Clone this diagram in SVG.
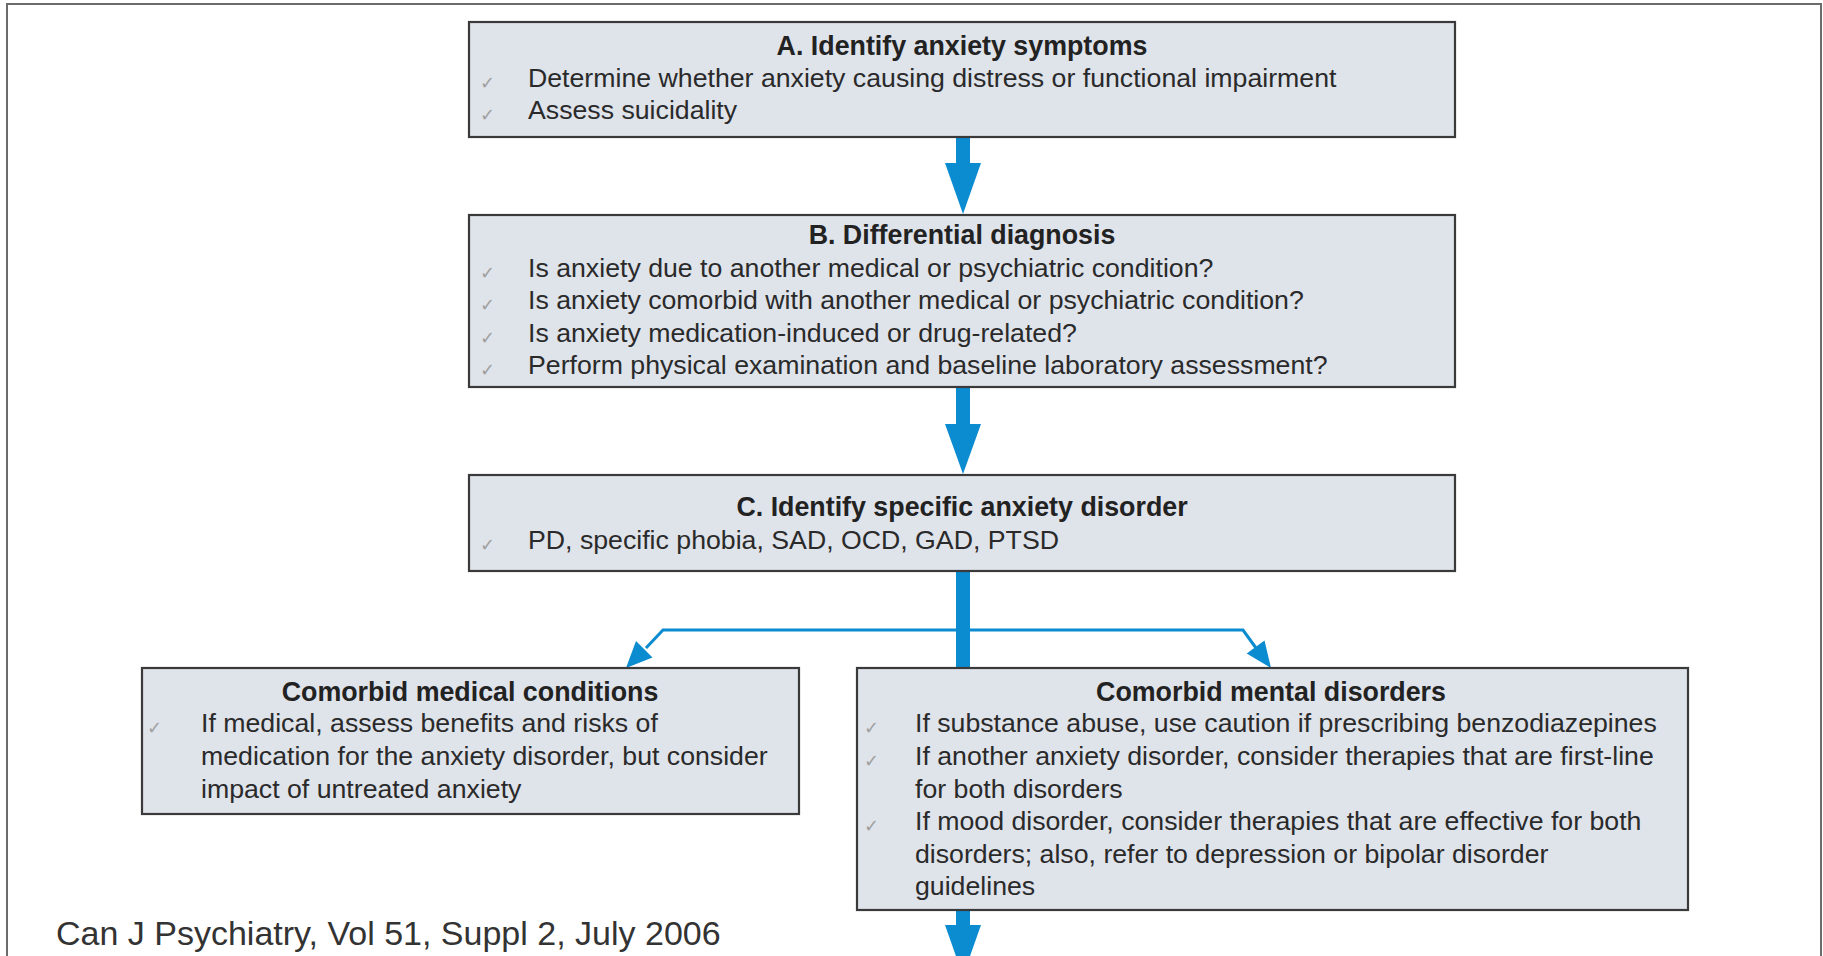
<svg xmlns="http://www.w3.org/2000/svg" width="1823" height="956" viewBox="0 0 1823 956">
<defs>
<style>
.frame{fill:#ffffff;stroke:#6b6b6b;stroke-width:2}
.box{fill:#dfe3ea;stroke:#3a3a3a;stroke-width:2.2}
.title{font-family:"Liberation Sans",Arial,sans-serif;font-weight:bold;font-size:26.8px;fill:#222;text-anchor:middle}
.body{font-family:"Liberation Sans",Arial,sans-serif;font-size:26.7px;fill:#2a2a2a}
.chk{font-family:"DejaVu Sans",sans-serif;font-size:18px;fill:#a0a0a0}
.foot{font-family:"Liberation Sans",Arial,sans-serif;font-size:34px;fill:#333}
.blue{fill:#0b8bd0}
.thin{fill:none;stroke:#0b8bd0;stroke-width:3;stroke-linejoin:miter}
</style>
</defs>
<rect class="frame" x="7" y="4" width="1814" height="960"/>

<g id="connectors">
  <rect class="blue" x="956" y="137" width="14" height="28"/>
  <polygon class="blue" points="945,163 981,163 963,214"/>
  <rect class="blue" x="956" y="387" width="14" height="39"/>
  <polygon class="blue" points="945,424 981,424 963,474"/>
  <rect class="blue" x="956" y="571" width="14" height="98"/>
  <polyline class="thin" points="646,648 663,630 1243,630 1256,648"/>
  <polygon class="blue" points="626,668 652.5,657.5 636,641"/>
  <polygon class="blue" points="1271,668 1264.5,640.6 1246.7,653.6"/>
  <rect class="blue" x="956" y="910" width="14" height="17"/>
  <polygon class="blue" points="945,925 981,925 963,976"/>
</g>

<g id="nodeA">
  <rect class="box" x="469" y="22" width="986" height="115"/>
  <text class="title" x="962" y="55">A. Identify anxiety symptoms</text>
  <text class="chk" x="480" y="89">✓</text>
  <text class="body" x="528" y="87">Determine whether anxiety causing distress or functional impairment</text>
  <text class="chk" x="480" y="121">✓</text>
  <text class="body" x="528" y="119">Assess suicidality</text>
</g>

<g id="nodeB">
  <rect class="box" x="469" y="215" width="986" height="172"/>
  <text class="title" x="962" y="244">B. Differential diagnosis</text>
  <text class="chk" x="480" y="279">✓</text>
  <text class="body" x="528" y="277">Is anxiety due to another medical or psychiatric condition?</text>
  <text class="chk" x="480" y="311">✓</text>
  <text class="body" x="528" y="309">Is anxiety comorbid with another medical or psychiatric condition?</text>
  <text class="chk" x="480" y="344">✓</text>
  <text class="body" x="528" y="342">Is anxiety medication-induced or drug-related?</text>
  <text class="chk" x="480" y="376">✓</text>
  <text class="body" x="528" y="374">Perform physical examination and baseline laboratory assessment?</text>
</g>

<g id="nodeC">
  <rect class="box" x="469" y="475" width="986" height="96"/>
  <text class="title" x="962" y="516">C. Identify specific anxiety disorder</text>
  <text class="chk" x="480" y="551">✓</text>
  <text class="body" x="528" y="549">PD, specific phobia, SAD, OCD, GAD, PTSD</text>
</g>

<g id="nodeMedical">
  <rect class="box" x="142" y="668" width="657" height="146"/>
  <text class="title" x="470" y="701">Comorbid medical conditions</text>
  <text class="chk" x="147" y="734">✓</text>
  <text class="body" x="201" y="732">If medical, assess benefits and risks of</text>
  <text class="body" x="201" y="765">medication for the anxiety disorder, but consider</text>
  <text class="body" x="201" y="798">impact of untreated anxiety</text>
</g>

<g id="nodeMental">
  <rect class="box" x="857" y="668" width="831" height="242"/>
  <text class="title" x="1271" y="701">Comorbid mental disorders</text>
  <text class="chk" x="864" y="734">✓</text>
  <text class="body" x="915" y="732">If substance abuse, use caution if prescribing benzodiazepines</text>
  <text class="chk" x="864" y="767">✓</text>
  <text class="body" x="915" y="765">If another anxiety disorder, consider therapies that are first-line</text>
  <text class="body" x="915" y="798">for both disorders</text>
  <text class="chk" x="864" y="832">✓</text>
  <text class="body" x="915" y="830">If mood disorder, consider therapies that are effective for both</text>
  <text class="body" x="915" y="863">disorders; also, refer to depression or bipolar disorder</text>
  <text class="body" x="915" y="895">guidelines</text>
</g>

<text class="foot" x="56" y="945">Can J Psychiatry, Vol 51, Suppl 2, July 2006</text>
</svg>
